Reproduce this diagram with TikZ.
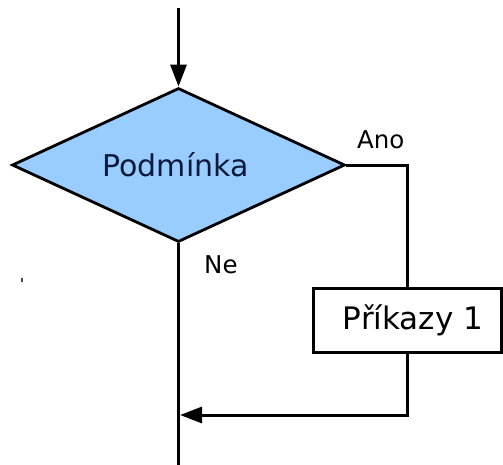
\documentclass[tikz,border=0pt]{standalone}
\usepackage{fontspec}
\setmainfont{DejaVu Sans}
\usetikzlibrary{shapes.geometric,arrows.meta}
\definecolor{condfill}{HTML}{99CCFF}
\definecolor{condtext}{HTML}{0B1A3C}
\begin{document}
\begin{tikzpicture}[x=1pt,y=-1pt,
  line/.style={line width=3pt,draw=black},
  arr/.style={line,-{Triangle[length=22pt,width=16pt]}},
  lbl/.style={font=\fontsize{24.5}{26}\selectfont,inner sep=0pt}]
\useasboundingbox (0,0) rectangle (503,464);
\fill[white] (0,0) rectangle (503,464);
\node[diamond,draw=black,line width=2.8pt,fill=condfill,inner sep=0pt,
  shape aspect=2.16,minimum width=333pt,minimum height=154pt,
  font=\fontsize{30}{32}\selectfont,text=condtext] (cond) at (178.5,165) {\hspace*{-6pt}Podmínka};
\node[draw=black,line width=3pt,fill=white,minimum width=188pt,minimum height=64pt,
  inner sep=0pt,font=\fontsize{31}{33}\selectfont] (box) at (407,320) {\hspace*{12pt}Příkazy 1};
\coordinate (start) at (178.5,8);
\coordinate (join) at (180,415);
\coordinate (endpt) at (178.5,466);
\draw[arr] (start) -- (cond.north);
\draw[line] (cond.east) -| (box.north);
\draw[arr] (box.south) |- (join);
\draw[line] (cond.south) -- (endpt);
\node[lbl,anchor=base west] (ano) at (357,148) {Ano};
\node[lbl,anchor=base west] (ne) at (204,273) {Ne};
\fill[black!70] (21,278) rectangle (23,282);
\end{tikzpicture}
\end{document}
